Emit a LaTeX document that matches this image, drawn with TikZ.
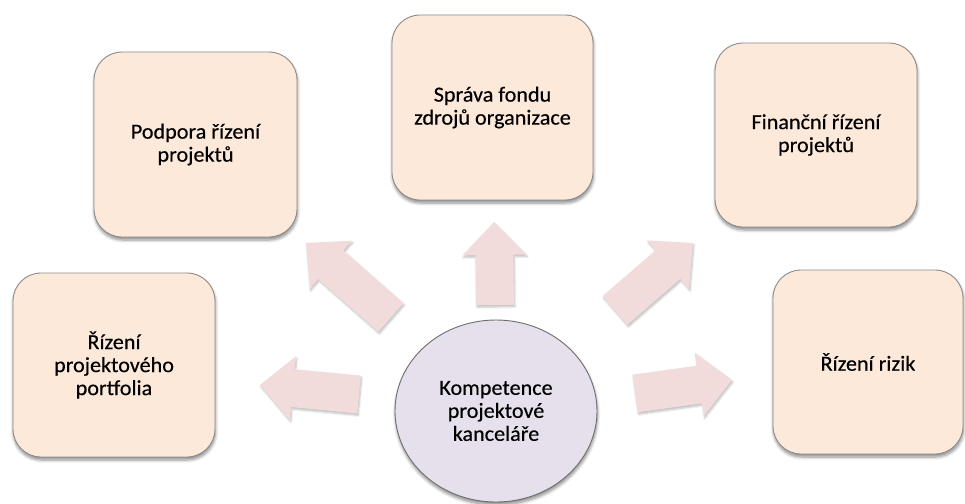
\documentclass[tikz,border=0pt]{standalone}
\usepackage{fontspec}
\setmainfont{Carlito}[FakeStretch=1.03,FakeBold=0.35]
\usetikzlibrary{calc,shapes.geometric,shadows.blur}

\definecolor{boxfill}{HTML}{FDE9DA}
\definecolor{boxline}{HTML}{8A8A8A}
\definecolor{hubfill}{HTML}{E5E0EC}
\definecolor{hubline}{HTML}{6E6E6E}
\definecolor{arrowfill}{HTML}{F2DCDB}

\tikzset{
  softshadow/.style={blur shadow={shadow xshift=0.5pt, shadow yshift=-3pt,
      shadow blur radius=3pt, shadow blur steps=6, shadow opacity=45}},
  label text/.style={align=center, text=black,
      font=\fontsize{21.5}{23}\selectfont},
  card/.style={rectangle, rounded corners=28pt, draw=boxline, line width=0.9pt,
      fill=boxfill, softshadow, label text, inner sep=0pt},
  hub/.style={ellipse, draw=hubline, line width=0.9pt, fill=hubfill,
      softshadow, label text, inner sep=0pt,
      minimum width=202pt, minimum height=182pt},
  arrowbody/.style={fill=arrowfill, blur shadow={shadow xshift=1pt,
      shadow yshift=-2pt, shadow blur radius=2pt, shadow blur steps=5,
      shadow opacity=25}}
}

% Block arrow from a tail coordinate to a tip coordinate
\newcommand\pmoarrow[2]{%
  \coordinate (#1-b) at ($(#2)!33pt!(#1)$);
  \fill[arrowbody] ($(#1)!19pt!90:(#2)$) -- ($(#1-b)!19pt!90:(#2)$)
    -- ($(#1-b)!32pt!90:(#2)$) -- (#2) -- ($(#1-b)!32pt!-90:(#2)$)
    -- ($(#1-b)!19pt!-90:(#2)$) -- ($(#1)!19pt!-90:(#2)$) -- cycle;
}

\begin{document}
\begin{tikzpicture}[x=1pt,y=-1pt]
\useasboundingbox (0,0) rectangle (965,503);

% block arrows (tail and tip points)
\coordinate (upT) at (495,305);   \coordinate (upH) at (494,222);
\coordinate (ulT) at (391,317.5); \coordinate (ulH) at (306,243);
\coordinate (urT) at (615,310.5); \coordinate (urH) at (693,243);
\coordinate (lfT) at (359,394.5); \coordinate (lfH) at (260,385);
\coordinate (rtT) at (635,393.5); \coordinate (rtH) at (732,380);

\pmoarrow{upT}{upH}
\pmoarrow{ulT}{ulH}
\pmoarrow{urT}{urH}
\pmoarrow{lfT}{lfH}
\pmoarrow{rtT}{rtH}

% competence areas
\node[card, minimum width=202pt, minimum height=184pt] (portfolio) at (114,365)
  {Řízení\\projektového\\portfolia};
\node[card, minimum width=203pt, minimum height=185pt] (support) at (195.5,144.5)
  {Podpora řízení\\projektů};
\node[card, minimum width=201pt, minimum height=185pt] (resources) at (492.5,107.5)
  {Správa fondu\\zdrojů organizace};
\node[card, minimum width=202pt, minimum height=184pt] (finance) at (816,135)
  {Finanční řízení\\projektů};
\node[card, minimum width=190pt, minimum height=184pt] (risk) at (868,362)
  {Řízení rizik};

% central hub
\node[hub] (pmo) at (496,411) {Kompetence\\projektové\\kanceláře};
\end{tikzpicture}
\end{document}
